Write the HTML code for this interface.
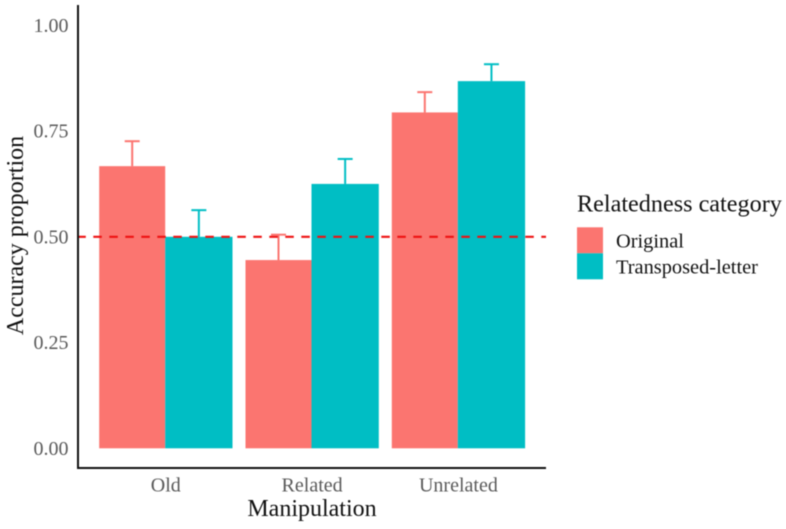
<!DOCTYPE html>
<html>
<head>
<meta charset="utf-8">
<style>
html,body{margin:0;padding:0;background:#fff;width:786px;height:529px;overflow:hidden}
svg{display:block;filter:blur(0.5px)}
text{font-family:"Liberation Serif",serif}
</style>
</head>
<body>
<svg id="chart" width="786" height="529" viewBox="0 0 786 529" xmlns="http://www.w3.org/2000/svg"></svg>
<script>
const categories = ["Old", "Related", "Unrelated"];
const seriesNames = ["Original", "Transposed-letter"];
const originalValues = [0.667, 0.445, 0.794];
const transposedValues = [0.500, 0.625, 0.868];
const originalErrorTops = [0.726, 0.505, 0.842];
const transposedErrorTops = [0.563, 0.684, 0.908];
const yTicks = [0, 0.25, 0.5, 0.75, 1];
const referenceValue = 0.5;

const svg = document.getElementById('chart');
const NS = 'http://www.w3.org/2000/svg';
const colors = ['#FB7570', '#00BEC4'];
const values = [originalValues, transposedValues];
const errorTops = [originalErrorTops, transposedErrorTops];

function yScale(v) { return 448.3 - v * 423; }
function xSplit(i) { return 165.2 + i * 146.3; }
const barWidths = [66, 67.3];

function make(tag, attrs, text) {
  const el = document.createElementNS(NS, tag);
  for (const k in attrs) el.setAttribute(k, attrs[k]);
  if (text !== undefined) el.textContent = text;
  svg.appendChild(el);
  return el;
}

categories.forEach((cat, i) => {
  seriesNames.forEach((name, s) => {
    const w = barWidths[s];
    const left = s === 0 ? xSplit(i) - w : xSplit(i);
    const top = yScale(values[s][i]);
    const mid = left + w / 2;
    const errTop = yScale(errorTops[s][i]);
    const stem = make('line', {x1: mid, x2: mid, y1: top, y2: errTop, stroke: colors[s], 'stroke-width': 2});
    
    
    const cap = make('line', {x1: mid - 7.5, x2: mid + 7.5, y1: errTop, y2: errTop, stroke: colors[s], 'stroke-width': 2});
    
    
    const bar = make('rect', {x: left, y: top, width: w, height: yScale(0) - top, fill: colors[s]});
    
    
  });
  const label = make('text', {x: xSplit(i) + 0.6, y: 491.7, 'text-anchor': 'middle', 'font-size': 20, fill: '#595959'}, cat);
  
  
});

const refLine = make('line', {x1: 78, x2: 546, y1: yScale(referenceValue), y2: yScale(referenceValue), stroke: '#EE1111', 'stroke-width': 2.2, 'stroke-dasharray': '8.5 7.5', 'stroke-dashoffset': '-15.3'});



yTicks.forEach(t => {
  const label = make('text', {x: 68.5, y: yScale(t) + 6.5, 'text-anchor': 'end', 'font-size': 20, fill: '#595959'}, t.toFixed(2));
  
  
});

const yAxis = make('line', {x1: 78, x2: 78, y1: 5, y2: 469, stroke: '#111', 'stroke-width': 2});


const xAxis = make('line', {x1: 77, x2: 546, y1: 468, y2: 468, stroke: '#111', 'stroke-width': 2});



const xTitle = make('text', {x: 312, y: 516, 'text-anchor': 'middle', 'font-size': 24, fill: '#111'}, 'Manipulation');


const yTitle = make('text', {x: 0, y: 0, transform: 'translate(23,235.5) rotate(-90)', 'text-anchor': 'middle', 'font-size': 24, fill: '#111'}, 'Accuracy proportion');



const legendTitle = make('text', {x: 577, y: 211.7, 'font-size': 24.2, fill: '#111'}, 'Relatedness category');


seriesNames.forEach((name, s) => {
  const swatch = make('rect', {x: 577, y: 227.3 + s * 26, width: 26, height: 26, fill: colors[s]});
  
  
  const label = make('text', {x: 616, y: 247.3 + s * 26, 'font-size': 20.4, fill: '#111'}, name);
  
  
});
</script>
</body>
</html>
